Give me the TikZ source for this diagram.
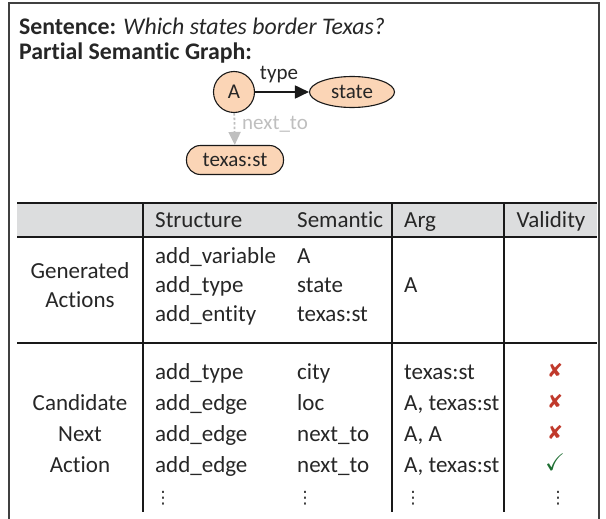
\documentclass[tikz,border=0pt]{standalone}
\usepackage{fontspec}
\setmainfont{Carlito}[Ligatures=NoCommon]
\newfontfamily\symfont{DejaVu Sans}
\usepackage{amssymb}
\usetikzlibrary{arrows.meta,shapes.geometric}
\definecolor{peach}{HTML}{FBD5B6}
\definecolor{headgray}{HTML}{DCDDDE}
\definecolor{framecol}{HTML}{404040}
\definecolor{lightline}{HTML}{BFBFBF}
\definecolor{xred}{HTML}{C0392B}
\definecolor{okgreen}{HTML}{1E6E32}
\begin{document}
\begin{tikzpicture}[x=1pt,y=-1pt,
  every node/.style={inner sep=0pt, font=\fontsize{23}{27}\selectfont, text=black!85},
  cell/.style={anchor=west, text height=15pt, text depth=0pt},
  ccell/.style={anchor=center, text height=15pt, text depth=0pt},
  titlecell/.style={anchor=west, text height=15pt, text depth=0pt, font=\fontsize{23.8}{27}\selectfont},
  gnode/.style={draw=black!90, fill=peach, line width=1.1pt, font=\fontsize{21}{25}\selectfont, text height=14pt, text depth=0pt},
  glabel/.style={font=\fontsize{21}{25}\selectfont, text height=14pt, text depth=0pt},
  tline/.style={line width=2.2pt, black!90},
  xmark/.style={text=xred, font=\symfont\fontsize{19}{21}\selectfont, text height=12pt, text depth=0pt},
  okmark/.style={text=okgreen, font=\fontsize{24}{26}\selectfont, text height=14pt, text depth=0pt},
  dotsmark/.style={font=\symfont\fontsize{17}{19}\selectfont, text height=12pt, text depth=0pt}
]
\useasboundingbox (0,0) rectangle (606,519);
% frame
\draw[framecol, line width=1.5pt] (9,525) -- (9,3) -- (599,3) -- (599,525);

% title lines
\node[titlecell] (sent) at (19,27) {\textbf{Sentence:} \textit{Which states border Texas?}};
\node[titlecell] (psg) at (19,52) {\textbf{Partial Semantic Graph:}};

% graph
\node[gnode, circle, minimum size=41pt] (A) at (234,92) {A};
\node[gnode, ellipse, minimum width=85pt, minimum height=31pt] (st) at (352,92) {state};
\node[gnode, rectangle, rounded corners=14pt, minimum width=97pt, minimum height=29pt] (tx) at (235,160) {texas:st};
\draw[line width=1.8pt, black!90, -{Triangle[length=14pt,width=13pt]}] (A) -- (st);
\node[glabel] (ty) at (279,73) {type};
\draw[line width=1.8pt, lightline, dash pattern=on 2.5pt off 2pt, -{Triangle[length=13pt,width=12pt]}] (A) -- (tx);
\node[glabel, anchor=west, text=lightline] (nt) at (242,123) {next\_to};

% table
\fill[headgray] (17,203) rectangle (597,237);
\draw[tline] (17,203) -- (597,203);
\draw[tline] (17,237) -- (597,237);
\draw[tline] (17,343) -- (597,343);
\draw[tline] (143,203) -- (143,512);
\draw[tline] (392,203) -- (392,512);
\draw[tline] (504,203) -- (504,512);

% header
\node[cell] (h1) at (155,220) {Structure};
\node[cell] (h2) at (297,220) {Semantic};
\node[cell] (h3) at (404,220) {Arg};
\node[ccell] (h4) at (551,220) {Validity};

% generated actions
\node[ccell] (g1) at (80,271) {Generated};
\node[ccell] (g2) at (80,300) {Actions};
\node[cell] (a1) at (155,256) {add\_variable};
\node[cell] (b1) at (297,256) {A};
\node[cell] (a2) at (155,285) {add\_type};
\node[cell] (b2) at (297,285) {state};
\node[cell] (c2) at (404,285) {A};
\node[cell] (a3) at (155,314) {add\_entity};
\node[cell] (b3) at (297,314) {texas:st};

% candidate next actions
\node[ccell] (n1) at (80,403) {Candidate};
\node[ccell] (n2) at (80,434) {Next};
\node[ccell] (n3) at (80,465) {Action};

\node[cell] (r1a) at (155,372) {add\_type};
\node[cell] (r1b) at (297,372) {city};
\node[cell] (r1c) at (404,372) {texas:st};
\node[xmark] (r1d) at (555,371) {✘};

\node[cell] (r2a) at (155,403) {add\_edge};
\node[cell] (r2b) at (297,403) {loc};
\node[cell] (r2c) at (404,403) {A, texas:st};
\node[xmark] (r2d) at (555,402) {✘};

\node[cell] (r3a) at (155,434) {add\_edge};
\node[cell] (r3b) at (297,434) {next\_to};
\node[cell] (r3c) at (404,434) {A, A};
\node[xmark] (r3d) at (555,433) {✘};

\node[cell] (r4a) at (155,465) {add\_edge};
\node[cell] (r4b) at (297,465) {next\_to};
\node[cell] (r4c) at (404,465) {A, texas:st};
\node[okmark] (r4d) at (555,463) {$\checkmark$};

\node[dotsmark] (d1) at (163,497) {⋮};
\node[dotsmark] (d2) at (305,497) {⋮};
\node[dotsmark] (d3) at (413,497) {⋮};
\node[dotsmark] (d4) at (558,497) {⋮};
\end{tikzpicture}
\end{document}
